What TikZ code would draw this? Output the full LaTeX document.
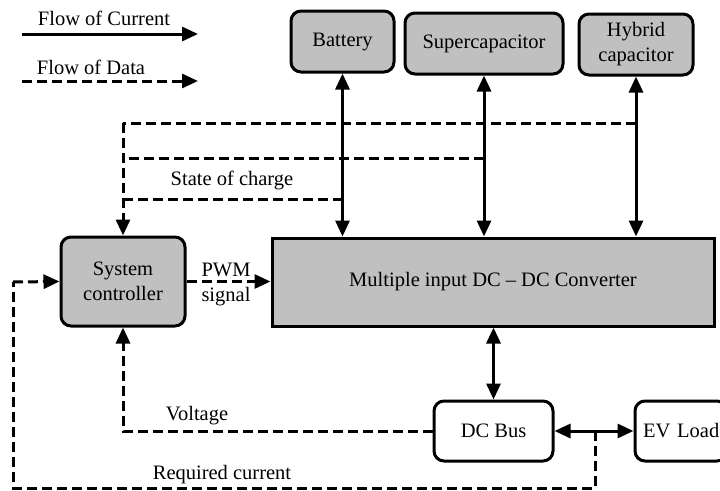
\documentclass[tikz,border=0pt]{standalone}
\usepackage{fontspec}
\setmainfont{Liberation Serif}
\usetikzlibrary{arrows.meta}
\definecolor{boxgray}{RGB}{192,192,192}
\begin{document}
\begin{tikzpicture}[x=1pt,y=-1pt,
  font=\fontsize{20.5}{25}\selectfont,
  blk/.style={draw, line width=3pt, rounded corners=10pt, inner sep=0pt, align=center},
  grayblk/.style={blk, fill=boxgray},
  pow/.style={line width=3pt, {Triangle[length=16pt,width=14pt]}-{Triangle[length=16pt,width=14pt]}},
  powone/.style={line width=3pt, -{Triangle[length=16pt,width=14pt]}},
  dat/.style={line width=3pt, dash pattern=on 10pt off 5pt},
  datarr/.style={dat, -{Triangle[length=16pt,width=14pt]}},
  lbl/.style={inner sep=0pt}
]
\useasboundingbox (0,0) rectangle (720,490);

% legend
\node[lbl] (lcur) at (104,18) {Flow of Current};
\coordinate (lc1) at (22,34);
\coordinate (lc2) at (198,34);
\draw[powone] (lc1) -- (lc2);
\node[lbl] (ldat) at (91,67) {Flow of Data};
\coordinate (ld1) at (22,81);
\coordinate (ld2) at (198,81);
\draw[datarr] (ld1) -- (ld2);

% storage blocks
\node[grayblk, minimum width=103pt, minimum height=61pt] (bat) at (342.5,41.5) {Battery};
\node[grayblk, minimum width=158pt, minimum height=61pt] (sup) at (484,43.5) {Supercapacitor};
\node[grayblk, minimum width=114pt, minimum height=61pt] (hyb) at (636,44.5) {Hybrid\\capacitor};

% converter
\node[draw, line width=3pt, fill=boxgray, minimum width=442pt, minimum height=88pt, inner sep=0pt] (conv) at (493,282) {Multiple input DC -- DC Converter};

% controller
\node[grayblk, minimum width=124pt, minimum height=89pt] (ctrl) at (123,281.5) {System\\controller};

% DC bus and load
\node[blk, minimum width=119pt, minimum height=60pt] (bus) at (493.5,431) {DC Bus};
\node[blk, minimum width=92pt, minimum height=60pt, text width=92pt, align=left] (load) at (681,431) {\hspace*{8pt}EV Load};

% current arrows
\draw[pow] (bat.south) -- (bat.south |- conv.north);
\draw[pow] (sup.south) -- (sup.south |- conv.north);
\draw[pow] (hyb.south) -- (hyb.south |- conv.north);
\draw[pow] (conv.south -| bus.north) -- (bus.north);
\draw[pow] (bus.east) -- (load.west);

% state of charge lines
\coordinate (soc1) at (hyb.south |- 0,123);
\coordinate (soc2) at (sup.south |- 0,158);
\coordinate (soc3) at (bat.south |- 0,199);
\coordinate (socl) at (ctrl.north |- 0,123);
\draw[dat] (soc1) -- (socl);
\draw[dat] (soc2) -- (ctrl.north |- soc2);
\draw[dat] (soc3) -- (ctrl.north |- soc3);
\draw[datarr] (socl) -- (ctrl.north);
\node[lbl] (soclbl) at (232,180) {State of charge};

% PWM
\draw[datarr] (ctrl.east) -- (ctrl.east -| conv.west);
\node[lbl, anchor=base] (pwm) at (226,276) {PWM};
\node[lbl, anchor=base] (sig) at (226,301) {signal};

% voltage
\coordinate (vc) at (ctrl.south |- bus.west);
\draw[datarr] (bus.west) -- (vc) -- (ctrl.south);
\node[lbl] (vlbl) at (197,416) {Voltage};

% required current
\coordinate (rc0) at (595,431);
\coordinate (rc1) at (595,488);
\coordinate (rc2) at (13,488);
\coordinate (rc3) at (13,282);
\draw[dat] (rc0) -- (rc1) -- (rc2) -- (rc3);
\draw[datarr] (rc3) -- (ctrl.west);
\node[lbl] (rlbl) at (222,475) {Required current};
\end{tikzpicture}
\end{document}
